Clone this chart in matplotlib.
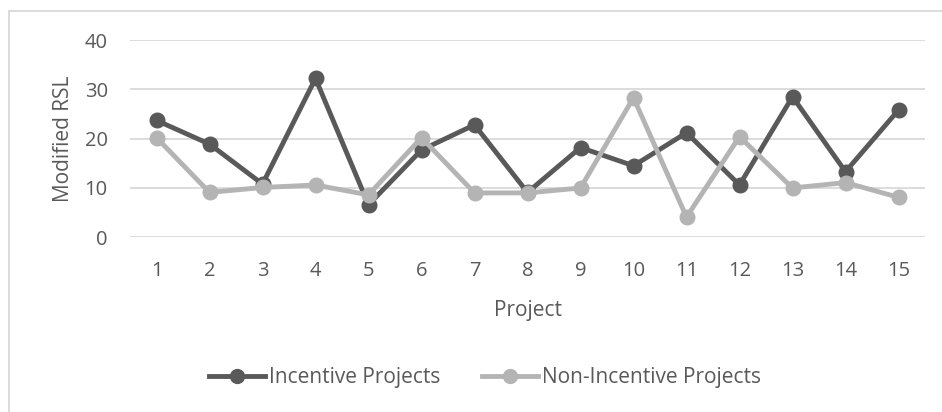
import matplotlib.pyplot as plt
from matplotlib.lines import Line2D

# ----------------------------
# Daten
# ----------------------------
projects = list(range(1, 16))
incentive = [23.7, 18.9, 10.8, 32.2, 6.6, 17.7, 22.8, 9.1, 18.2, 14.5, 21.2, 10.6, 28.5, 13.3, 25.8]
non_incentive = [20.2, 9.1, 10.1, 10.6, 8.6, 20.2, 9.0, 9.0, 10.0, 28.3, 4.1, 20.4, 10.0, 11.1, 8.1]
y_ticks = [0, 10, 20, 30, 40]

dark = "#595959"
light = "#b4b4b4"
grid_c = "#d9d9d9"
text_c = "#595959"

plt.rcParams['font.family'] = ['Open Sans', 'DejaVu Sans']

fig = plt.figure(figsize=(9.42, 4.12), dpi=100)
W, H = 942, 412
ax = fig.add_axes([130 / W, (H - 237.3) / H, 795 / W, 197.3 / H])

ax.plot(projects, incentive, color=dark, lw=3.5, marker="o", ms=10.5,
        label="Incentive Projects", solid_capstyle="round", zorder=3)
ax.plot(projects, non_incentive, color=light, lw=3.5, marker="o", ms=10.5,
        label="Non-Incentive Projects", solid_capstyle="round", zorder=4)

ax.set_xlim(0.5, 15.5)
ax.set_ylim(0, 40)
ax.set_yticks(y_ticks)
ax.set_xticks(projects)
ax.yaxis.grid(True, color=grid_c, lw=1.3)
ax.set_axisbelow(True)
for s in ax.spines.values():
    s.set_visible(False)
ax.tick_params(axis="y", length=0, pad=16, labelsize=14.5, labelcolor=text_c)
ax.tick_params(axis="x", length=0, pad=17, labelsize=14.5, labelcolor=text_c)
for line in ax.lines:
    line.set_clip_on(False)

ax.set_xlabel("Project", fontsize=15, color=text_c, labelpad=14)
ax.set_ylabel("Modified RSL", fontsize=15, color=text_c, labelpad=8)

handles = [
    Line2D([], [], color=dark, lw=3.5, marker="o", ms=10),
    Line2D([], [], color=light, lw=3.5, marker="o", ms=10),
]
fig.legend(handles, ["Incentive Projects", "Non-Incentive Projects"],
           loc="center", bbox_to_anchor=(485 / W, 1 - 378 / H), ncol=2,
           frameon=False, fontsize=15, labelcolor=text_c,
           handlelength=2.7, handletextpad=0.2, columnspacing=2.0)

# Rahmen (links und oben)
fig.add_artist(Line2D([9 / W, 9 / W], [0, 1 - 10.5 / H], color=grid_c, lw=1.3))
fig.add_artist(Line2D([9 / W, 1], [1 - 10.5 / H, 1 - 10.5 / H], color=grid_c, lw=1.3))

fig.savefig("out.png", dpi=100)
